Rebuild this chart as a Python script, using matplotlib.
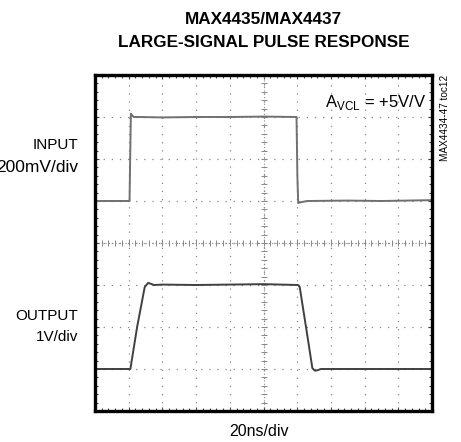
import numpy as np
import matplotlib
matplotlib.use("Agg")
import matplotlib.pyplot as plt
from matplotlib import font_manager
from matplotlib.ticker import MultipleLocator

plt.rcParams["font.family"] = ["Liberation Sans", "DejaVu Sans"]

# condensed face for the title if it is installed
names = {f.name for f in font_manager.fontManager.ttflist}
if "Liberation Sans Narrow" in names:
    title_font = dict(family="Liberation Sans Narrow", fontsize=15)
else:
    title_font = dict(family="Liberation Sans", fontsize=12.3)

# scope screen: 10 x 20ns horizontally, 8 divisions vertically
t_in = [0, 20.5, 20.9, 21.3, 21.8, 23, 26, 40, 60, 80, 100, 119.6, 120.1, 120.6, 122, 126, 150, 170, 200]
v_in = [5.0, 5.0, 6.1, 7.08, 7.05, 7.0, 7.0, 6.99, 7.0, 7.0, 7.01, 7.0, 5.6, 4.95, 4.97, 5.0, 5.01, 5.0, 5.02]

t_out = [0, 15, 21.0, 25, 29.5, 31.5, 33, 35, 40, 60, 80, 100, 120.5, 121.5, 126, 129, 130.5, 132, 134, 150, 200]
v_out = [1.0, 1.0, 1.0, 2.0, 2.95, 3.05, 3.03, 3.0, 3.01, 3.0, 3.01, 3.02, 3.0, 2.95, 1.8, 1.02, 0.96, 0.97, 1.0, 1.0, 1.0]

W, H = 461, 442
fig = plt.figure(figsize=(W / 100, H / 100), dpi=100)
ax = fig.add_axes([95 / W, 1 - 411 / H, 337 / W, 336 / H])
ax.set_xlim(0, 200)
ax.set_ylim(0, 8)

# dotted graticule
ax.xaxis.set_major_locator(MultipleLocator(20))
ax.yaxis.set_major_locator(MultipleLocator(1))
ax.xaxis.set_minor_locator(MultipleLocator(4))
ax.yaxis.set_minor_locator(MultipleLocator(0.2))
ax.grid(True, which="major", color="#888888", linestyle=(0, (1, 5.5)), linewidth=0.9)
ax.tick_params(which="both", direction="in", top=True, right=True,
               labelbottom=False, labelleft=False, color="#444444")
ax.tick_params(which="major", length=3, width=0.8)
ax.tick_params(which="minor", length=2, width=0.8)
for s in ax.spines.values():
    s.set_linewidth(2.4)

# centre cross with small division marks
ax.axhline(4, color="#888888", linestyle=(0, (1, 2)), linewidth=0.8)
ax.axvline(100, color="#888888", linestyle=(0, (1, 2)), linewidth=0.8)
xm = np.arange(0, 200.1, 4)
ym = np.arange(0, 8.01, 0.2)
ax.plot(xm, np.full_like(xm, 4), linestyle="none", marker="|", markersize=4,
        mew=0.7, color="#888888")
ax.plot(np.full_like(ym, 100), ym, linestyle="none", marker="_", markersize=4,
        mew=0.7, color="#888888")

# traces
ax.plot(t_in, v_in, color="#707070", linewidth=1.4)
ax.plot(t_out, v_out, color="#404040", linewidth=1.4)

ax.text(0.983, 0.945, r"A$_{\mathregular{VCL}}$ = +5V/V", transform=ax.transAxes,
        ha="right", va="top", fontsize=12)

fig.text(263.5 / W, 1 - 19.5 / H, "MAX4435/MAX4437", ha="center", va="center",
         fontweight="bold", **title_font)
fig.text(263.5 / W, 1 - 42.5 / H, "LARGE-SIGNAL PULSE RESPONSE", ha="center", va="center",
         fontweight="bold", **title_font)

fig.text(78 / W, 1 - 145 / H, "INPUT", ha="right", va="center", fontsize=11)
fig.text(78 / W, 1 - 167 / H, "200mV/div", ha="right", va="center", fontsize=12.5)
fig.text(78 / W, 1 - 316 / H, "OUTPUT", ha="right", va="center", fontsize=11)
fig.text(78 / W, 1 - 337 / H, "1V/div", ha="right", va="center", fontsize=11)
fig.text(259 / W, 1 - 432 / H, "20ns/div", ha="center", va="center", fontsize=11.5)

fig.text(445 / W, 1 - 75 / H, "MAX4434-47 toc12", rotation=90, ha="center", va="top",
         fontsize=7.2)

fig.savefig("out.png", dpi=100)
